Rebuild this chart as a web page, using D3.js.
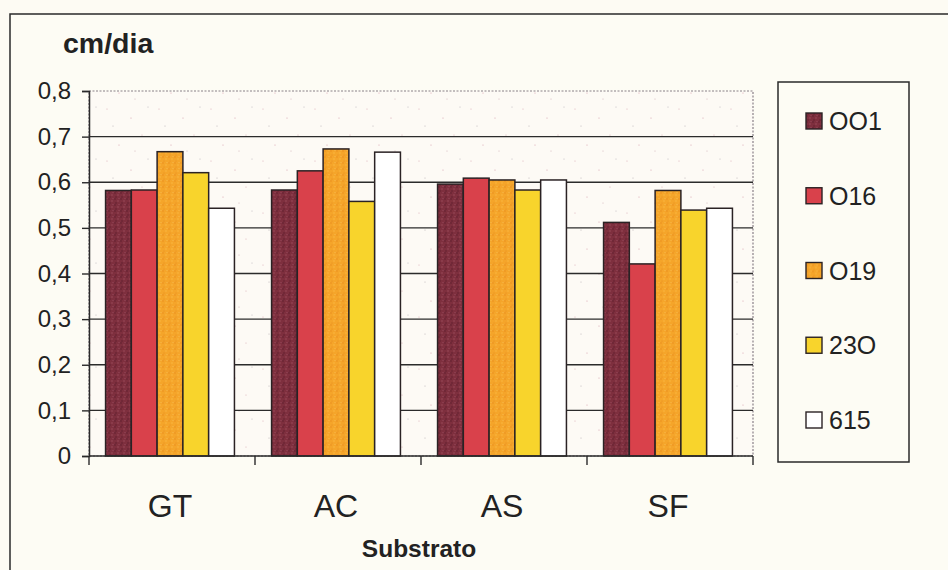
<!DOCTYPE html>
<html>
<head>
<meta charset="utf-8">
<script src="https://cdn.jsdelivr.net/npm/d3@7"></script>
<style>
  html, body { margin: 0; padding: 0; background: #fdfbf3; }
  svg { display: block; font-family: Arial, "Liberation Sans", sans-serif; }
</style>
</head>
<body>
<svg id="chart" width="948" height="570"></svg>
<script>
// Growth rate (cm/dia) by substrate for five clones
const categories = ["GT", "AC", "AS", "SF"];
const seriesNames = ["OO1", "O16", "O19", "23O", "615"];
const seriesColors = ["#7e2f3e", "#d9414b", "#f5a52a", "#f8d42c", "#ffffff"];
const s_OO1 = [0.582, 0.583, 0.596, 0.512];
const s_O16 = [0.583, 0.625, 0.609, 0.421];
const s_O19 = [0.667, 0.673, 0.605, 0.582];
const s_23O = [0.621, 0.558, 0.583, 0.539];
const s_615 = [0.543, 0.666, 0.605, 0.543];
const seriesValues = [s_OO1, s_O16, s_O19, s_23O, s_615];
const yTicks = [0, 0.1, 0.2, 0.3, 0.4, 0.5, 0.6, 0.7, 0.8];
const yTickLabels = ["0", "0,1", "0,2", "0,3", "0,4", "0,5", "0,6", "0,7", "0,8"];

const svg = d3.select("#chart");
const plot = { left: 89, right: 753, top: 91, bottom: 456 };

// speckled textures
const defs = svg.append("defs");
function speckle(id, bg, dots, size) {
  const p = defs.append("pattern").attr("id", id).attr("patternUnits", "userSpaceOnUse")
    .attr("width", size).attr("height", size);
  p.append("rect").attr("width", size).attr("height", size).attr("fill", bg);
  dots.forEach(d => p.append("circle").attr("cx", d[0]).attr("cy", d[1]).attr("r", d[2]).attr("fill", d[3]));
}
speckle("bgTex", "#fdfaf5", [
  [3, 5, 0.6, "#dcb0ba"], [27, 14, 0.6, "#d6a2b0"], [9, 22, 0.5, "#b2aab0"],
  [38, 31, 0.6, "#dcb3bb"], [15, 41, 0.6, "#d8a3ae"], [44, 3, 0.5, "#b6b0b8"],
  [31, 47, 0.5, "#cfa8b3"]
], 52);
speckle("tex0", "#7e2f3e", [
  [1, 1, 0.8, "#5e1f2d"], [4, 3, 0.8, "#9a4a58"], [2, 5, 0.7, "#5a1c29"], [5, 0.5, 0.6, "#94475a"]
], 6);
speckle("tex2", "#f5a52a", [
  [1, 1, 0.7, "#e8891c"], [4, 3, 0.7, "#fbbd45"], [2, 5, 0.6, "#e68a1f"], [5, 0.5, 0.5, "#f9c15a"]
], 6);
const fills = ["url(#tex0)", seriesColors[1], "url(#tex2)", seriesColors[3], seriesColors[4]];

// outer chart frame
svg.append("rect").attr("x", 10).attr("y", 14).attr("width", 960).attr("height", 600)
  .attr("fill", "#fdfcf4").attr("stroke", "#2a2a2a").attr("stroke-width", 1.5);

const x0 = d3.scaleBand().domain(categories).range([plot.left, plot.right]).paddingInner(0).paddingOuter(0);
const x1 = d3.scaleBand().domain(seriesNames).range([0, x0.bandwidth()]).paddingOuter(0.72).paddingInner(0);
const y = d3.scaleLinear().domain([0, 0.8]).range([plot.bottom, plot.top]);

// plot area
svg.append("rect").attr("x", plot.left).attr("y", plot.top)
  .attr("width", plot.right - plot.left).attr("height", plot.bottom - plot.top)
  .attr("fill", "url(#bgTex)").attr("stroke", "#8a8088").attr("stroke-width", 1.2)
  .attr("stroke-dasharray", "2,1.5");

// gridlines
svg.append("g").selectAll("line").data(yTicks.filter(v => v > 0 && v < 0.8)).join("line")
  .attr("x1", plot.left).attr("x2", plot.right)
  .attr("y1", d => y(d)).attr("y2", d => y(d))
  .attr("stroke", "#2b2b2b").attr("stroke-width", 1.3);

// bars
const rows = [];
categories.forEach((c, ci) => seriesNames.forEach((s, si) =>
  rows.push({ cat: c, ser: s, si, value: seriesValues[si][ci] })));
svg.append("g").selectAll("rect").data(rows).join("rect")
  .attr("x", d => x0(d.cat) + x1(d.ser) - 2)
  .attr("y", d => y(d.value))
  .attr("width", x1.bandwidth())
  .attr("height", d => y(0) - y(d.value))
  .attr("fill", d => fills[d.si])
  .attr("stroke", "#2a2224").attr("stroke-width", 1.5);

// y axis
const yAxis = d3.axisLeft(y).tickValues(yTicks).tickFormat((d, i) => yTickLabels[i])
  .tickSize(7).tickPadding(11);
const gy = svg.append("g").attr("transform", `translate(${plot.left},0)`).call(yAxis);
gy.select(".domain").attr("stroke", "#2a2a2a").attr("stroke-width", 1.5);
gy.selectAll(".tick line").attr("stroke", "#2a2a2a").attr("stroke-width", 1.4);
gy.selectAll(".tick text").attr("font-size", 24).attr("fill", "#222")
  .attr("font-family", "Arial, 'Liberation Sans', sans-serif");

// x axis with ticks at category boundaries
const gx = svg.append("g");
gx.append("line").attr("x1", plot.left).attr("x2", plot.right)
  .attr("y1", plot.bottom).attr("y2", plot.bottom)
  .attr("stroke", "#2a2a2a").attr("stroke-width", 1.5);
const bounds = categories.map(c => x0(c)).concat([x0(categories[categories.length - 1]) + x0.bandwidth()]);
gx.selectAll("line.tk").data(bounds).join("line").attr("class", "tk")
  .attr("x1", d => d).attr("x2", d => d)
  .attr("y1", plot.bottom).attr("y2", plot.bottom + 9)
  .attr("stroke", "#2a2a2a").attr("stroke-width", 1.4);
gx.selectAll("text").data(categories).join("text")
  .attr("x", d => x0(d) + x0.bandwidth() / 2 - 2).attr("y", 517)
  .attr("text-anchor", "middle").attr("font-size", 32).attr("fill", "#222").text(d => d);

// axis titles
svg.append("text").attr("x", 63).attr("y", 53).attr("font-size", 28.5).attr("font-weight", "bold")
  .attr("fill", "#222").text("cm/dia");
svg.append("text").attr("x", 419).attr("y", 557).attr("text-anchor", "middle")
  .attr("font-size", 24.5).attr("font-weight", "bold").attr("fill", "#222").text("Substrato");

// legend
const lg = svg.append("g");
lg.append("rect").attr("x", 778).attr("y", 82).attr("width", 131).attr("height", 380)
  .attr("fill", "#fdfcf4").attr("stroke", "#2a2a2a").attr("stroke-width", 1.5);
const ly = d3.scalePoint().domain(seriesNames).range([121, 420]);
const items = lg.selectAll("g.item").data(seriesNames).join("g").attr("class", "item")
  .attr("transform", d => `translate(806,${ly(d)})`);
items.append("rect").attr("x", 0).attr("y", -8).attr("width", 16).attr("height", 16)
  .attr("fill", (d, i) => fills[i]).attr("stroke", "#2a2224").attr("stroke-width", 1.4);
items.append("text").attr("x", 23).attr("y", 9).attr("font-size", 25).attr("fill", "#222").text(d => d);
</script>
</body>
</html>
